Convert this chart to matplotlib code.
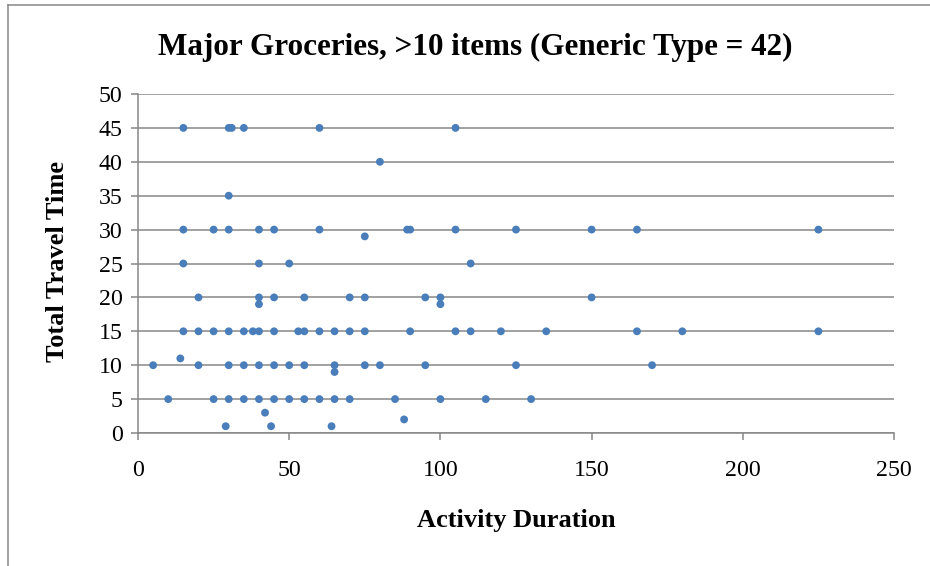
import matplotlib
matplotlib.use("Agg")
import matplotlib.pyplot as plt
from matplotlib.lines import Line2D

# Activity duration (minutes) and total travel time (minutes) per trip
activity_duration = [
    15, 30, 31, 35, 60, 105,                       # travel 45
    80,                                            # travel 40
    30,                                            # travel 35
    15, 25, 30, 40, 45, 60, 89, 90, 105, 125, 150, 165, 225,  # travel 30
    75,                                            # travel 29
    15, 40, 50, 110,                               # travel 25
    20, 40, 45, 55, 70, 75, 95, 100, 150,          # travel 20
    40, 100,                                       # travel 19
    15, 20, 25, 30, 35, 38, 40, 45, 53, 55, 60, 65, 70, 75, 90,
    105, 110, 120, 135, 165, 180, 225,             # travel 15
    14,                                            # travel 11
    5, 20, 30, 35, 40, 45, 50, 55, 65, 75, 80, 95, 125, 170,  # travel 10
    65,                                            # travel 9
    10, 25, 30, 35, 40, 45, 50, 55, 60, 65, 70, 85, 100, 115, 130,  # travel 5
    42,                                            # travel 3
    88,                                            # travel 2
    29, 44, 64,                                    # travel 1
]
total_travel_time = (
    [45] * 6 + [40] + [35] + [30] * 13 + [29] + [25] * 4 + [20] * 9 + [19] * 2
    + [15] * 22 + [11] + [10] * 14 + [9] + [5] * 15 + [3] + [2] + [1] * 3
)

x_ticks = [0, 50, 100, 150, 200, 250]
y_ticks = [0, 5, 10, 15, 20, 25, 30, 35, 40, 45, 50]

title = "Major Groceries, >10 items (Generic Type = 42)"
x_label = "Activity Duration"
y_label = "Total Travel Time"

W, H = 930, 566
plt.rcParams["font.family"] = ["Liberation Serif", "DejaVu Serif"]

fig = plt.figure(figsize=(W / 100, H / 100), dpi=100)
ax = fig.add_axes([138 / W, 1 - 433 / H, (894 - 138) / W, (433 - 94) / H])

grid_color = "#878787"
ax.scatter(activity_duration, total_travel_time, s=32, color="#4A7EBB",
           edgecolors="none", zorder=3, clip_on=False)

ax.set_xlim(0, 250)
ax.set_ylim(0, 50)
ax.set_xticks(x_ticks)
ax.set_yticks(y_ticks)
ax.yaxis.grid(True, color=grid_color, linewidth=1.1)
ax.set_axisbelow(True)

for side in ("top", "right"):
    ax.spines[side].set_visible(False)
for side in ("left", "bottom"):
    ax.spines[side].set_color(grid_color)
    ax.spines[side].set_linewidth(1.1)

ax.tick_params(axis="both", colors=grid_color, labelcolor="black",
               labelsize=17.2, length=5, width=1.1, direction="out")
ax.tick_params(axis="x", pad=14.5)
ax.tick_params(axis="y", pad=6)

fig.text(516 / W, 1 - 521 / H, x_label, fontsize=19, fontweight="bold",
         ha="center", va="center")
fig.text(57 / W, 1 - 262 / H, y_label, fontsize=19, fontweight="bold",
         ha="center", va="center", rotation=90)
fig.text(475 / W, 1 - 47 / H, title, fontsize=22.4, fontweight="bold",
         ha="center", va="center")

# Outer chart frame
fig.add_artist(Line2D([7.5 / W, 1], [1 - 4.5 / H, 1 - 4.5 / H],
                      transform=fig.transFigure, color=grid_color, linewidth=1.1))
fig.add_artist(Line2D([7.5 / W, 7.5 / W], [0, 1 - 4.5 / H],
                      transform=fig.transFigure, color=grid_color, linewidth=1.1))

fig.savefig("out.png", dpi=100, facecolor="white")
